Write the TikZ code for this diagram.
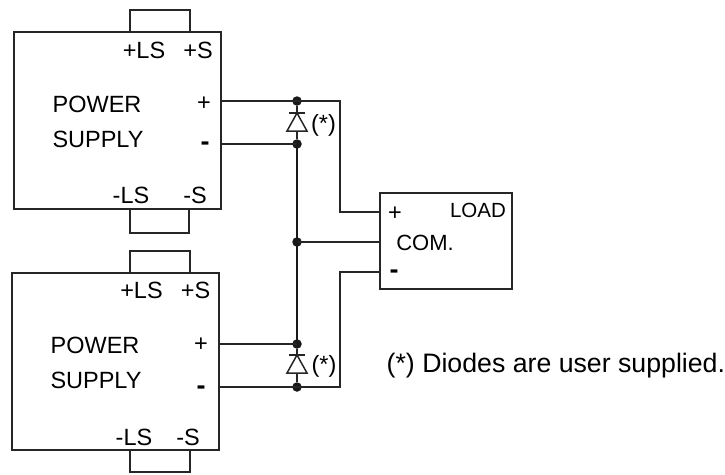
\documentclass[tikz,border=0pt]{standalone}
\usepackage{fontspec}
\setmainfont{Liberation Sans}
\usetikzlibrary{calc}
\tikzset{
	unitbox/.style={draw=black!85, line width=1.7pt, outer sep=0pt, minimum width=207pt, minimum height=177pt, anchor=north west},
	loadbox/.style={draw=black!85, line width=1.7pt, outer sep=0pt, minimum width=132pt, minimum height=96pt, anchor=north west},
	lab/.style={inner sep=0pt, anchor=base},
	minuslab/.style={inner sep=0pt, anchor=base, font=\fontsize{27}{30}\selectfont\bfseries},
	wire/.style={draw=black!85, line width=1.5pt},
	bus/.style={draw=black!90, line width=2pt},
	junction/.style={circle, fill=black!90, inner sep=0pt, minimum size=9.5pt},
}
\begin{document}
\begin{tikzpicture}[x=1pt, y=-1pt, font=\fontsize{23.5}{26}\selectfont, line join=miter]
	\useasboundingbox (0,0) rectangle (725,474);
	% boxes
	\node[unitbox] (psa) at (14,32) {};
	\node[unitbox] (psb) at (12,273) {};
	\node[loadbox] (load) at (380,193) {};
	% sense loops
	\coordinate (lsa1) at (130,32); \coordinate (lsa2) at (190,32);
	\coordinate (lsa3) at (130,209); \coordinate (lsa4) at (189,209);
	\coordinate (lsb1) at (130,273); \coordinate (lsb2) at (190,273);
	\coordinate (lsb3) at (130,450); \coordinate (lsb4) at (190,450);
	\draw[wire] (lsa1)--++(0,-22)-|(lsa2);
	\draw[wire] (lsa3)--++(0,24)-|(lsa4);
	\draw[wire] (lsb1)--++(0,-22)-|(lsb2);
	\draw[wire] (lsb3)--++(0,22)-|(lsb4);
	% junctions
	\node[junction] (ja) at (297,101) {};
	\node[junction] (jb) at (297,144) {};
	\node[junction] (jc) at (297,242) {};
	\node[junction] (jd) at (297,344) {};
	\node[junction] (je) at (297,387) {};
	\coordinate (pa) at (221,101); \coordinate (ma) at (221,144);
	\coordinate (pb) at (219,344); \coordinate (mb) at (219,387);
	\coordinate (lp) at (380,212); \coordinate (lc) at (380,242); \coordinate (lm) at (380,272);
	% wiring
	\draw[wire] (pa)--(ja.center)-|(340,212)--(lp);
	\draw[wire] (ma)--(jb.center);
	\draw[wire] (lc)--(jc.center);
	\draw[wire] (pb)--(jd.center);
	\draw[wire] (mb)--(je.center)-|(340,272)--(lm);
	\draw[bus] (jb.center)--(jd.center);
	% diodes
	\coordinate (da) at (297,113); \coordinate (db) at (297,131);
	\coordinate (dc) at (297,355); \coordinate (dd) at (297,373);
	\draw[wire] (ja)--(da) (db)--(jb);
	\draw[wire] (jd)--(dc) (dd)--(je);
	\draw[wire] ($(da)+(-8,0)$)--($(da)+(8,0)$);
	\draw[wire] (da)--($(db)+(-10,0)$)--($(db)+(10,0)$)--cycle;
	\draw[wire] ($(dc)+(-8,0)$)--($(dc)+(8,0)$);
	\draw[wire] (dc)--($(dd)+(-10,0)$)--($(dd)+(10,0)$)--cycle;
	% labels
	\node[lab] (t1) at (144,58) {+LS};
	\node[lab] (t2) at (198,58) {+S};
	\node[lab] (t3) at (97,112) {POWER};
	\node[lab] (t4) at (98,147) {SUPPLY};
	\node[lab] (t5) at (204,110) {+};
	\node[minuslab] (t6) at (205,150) {-};
	\node[lab] (t7) at (131,203) {-LS};
	\node[lab] (t8) at (195,203) {-S};
	\node[lab] (t9) at (141.5,298) {+LS};
	\node[lab] (t10) at (195.5,298) {+S};
	\node[lab] (t11) at (95,353) {POWER};
	\node[lab] (t12) at (96,388) {SUPPLY};
	\node[lab] (t13) at (201,351) {+};
	\node[minuslab] (t14) at (201,394) {-};
	\node[lab] (t15) at (134,445) {-LS};
	\node[lab] (t16) at (188,445) {-S};
	\node[lab] (t17) at (323.5,131) {(*)};
	\node[lab] (t18) at (324,372) {(*)};
	\node[lab] (t19) at (395,220) {+};
	\node[lab] (t20) at (478,217) {\fontsize{20.5}{24}\selectfont LOAD};
	\node[lab] (t21) at (425,250) {\fontsize{22}{26}\selectfont COM.};
	\node[minuslab] (t22) at (394,278) {-};
	\node[lab, anchor=base west] (t23) at (386.5,372) {\fontsize{26.7}{30}\selectfont (*) Diodes are user supplied.};
\end{tikzpicture}
\end{document}
